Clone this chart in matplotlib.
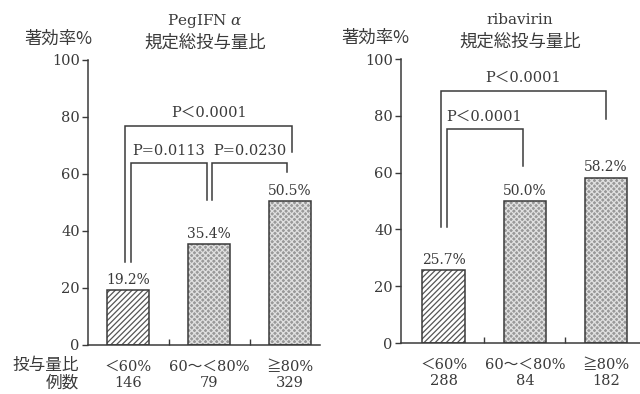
import matplotlib
matplotlib.use('Agg')
import matplotlib.pyplot as plt

# フォント: 数字はセリフ体、日本語は CJK にフォールバック
plt.rcParams['font.family'] = ['DejaVu Serif', 'Noto Sans CJK JP']
plt.rcParams['mathtext.fontset'] = 'dejavuserif'
plt.rcParams['hatch.linewidth'] = 0.9

INK = '#3a3a3a'
JP = ['Noto Sans CJK JP', 'DejaVu Sans']

# データ
categories = ['＜60%', '60〜＜80%', '≧80%']
peg_rate = [19.2, 35.4, 50.5]
peg_n = [146, 79, 329]
rbv_rate = [25.7, 50.0, 58.2]
rbv_n = [288, 84, 182]

fig = plt.figure(figsize=(6.4, 3.94), dpi=100)
ax1 = fig.add_axes([0.1375, 0.1244, 0.3625, 0.7234])
ax2 = fig.add_axes([0.6266, 0.1294, 0.3734, 0.7208])


def bar_panel(ax, rates, counts, xlim):
    xs = range(len(rates))
    for i, v in zip(xs, rates):
        if i == 0:
            ax.bar(i, v, width=0.53, color='white', edgecolor='#555555',
                   hatch='//////', linewidth=0)
        else:
            ax.bar(i, v, width=0.53, color='#999999', edgecolor='#e0e0e0',
                   hatch='xxxxxx', linewidth=0)
        ax.bar(i, v, width=0.53, fill=False, edgecolor=INK, linewidth=1.1)
        ax.text(i, v + 1.2, f'{v:.1f}%', ha='center', va='bottom',
                fontsize=10, color=INK)

    ax.set_ylim(0, 100)
    ax.set_xlim(*xlim)
    ax.set_yticks([0, 20, 40, 60, 80, 100])
    ax.tick_params(axis='y', direction='out', length=4, width=1,
                   colors=INK, labelsize=10.5, pad=2)

    # 区切りの目盛りとカテゴリ名
    ax.set_xticks([0.5, 1.5])
    ax.set_xticklabels([])
    ax.tick_params(axis='x', which='major', direction='in', length=4,
                   width=1, colors=INK)
    ax.set_xticks(list(xs), minor=True)
    ax.set_xticklabels([f'{c}\n{n}' for c, n in zip(categories, counts)],
                       minor=True, fontsize=10.5, color=INK, linespacing=1.2)
    ax.tick_params(axis='x', which='minor', length=0, pad=11)

    for s in ['top', 'right']:
        ax.spines[s].set_visible(False)
    for s in ['left', 'bottom']:
        ax.spines[s].set_color(INK)
        ax.spines[s].set_linewidth(1.1)


def bracket(ax, x0, x1, top, y0, y1, label=None, lx=None, ly=None):
    ax.plot([x0, x0, x1, x1], [y0, top, top, y1], color=INK, lw=1.1,
            solid_joinstyle='miter')
    if label:
        ax.text(lx, ly, label, ha='center', va='center', fontsize=10.5,
                color=INK)


bar_panel(ax1, peg_rate, peg_n, (-0.494, 2.37))
bar_panel(ax2, rbv_rate, rbv_n, (-0.53, 2.42))

bracket(ax1, -0.04, 2.02, 76.8, 29.0, 67.7, 'P＜0.0001', 1.0, 81.5)
bracket(ax1, 0.04, 0.98, 63.9, 29.0, 50.9, 'P=0.0113', 0.5, 67.9)
bracket(ax1, 1.04, 1.96, 63.9, 50.9, 60.7, 'P=0.0230', 1.5, 67.9)

bracket(ax2, -0.04, 2.0, 88.8, 40.7, 79.0, 'P＜0.0001', 0.98, 93.3)
bracket(ax2, 0.04, 0.98, 75.4, 40.7, 62.5, 'P＜0.0001', 0.5, 79.5)

# 見出し
fig.text(58 / 640, 1 - 39 / 394, '著効率%', family=JP, fontsize=12.5,
         color=INK, ha='center', va='center')
fig.text(205 / 640, 1 - 21 / 394, r'PegIFN $\alpha$', fontsize=11,
         color=INK, ha='center', va='center')
fig.text(205 / 640, 1 - 43 / 394, '規定総投与量比', family=JP, fontsize=12.5,
         color=INK, ha='center', va='center')

fig.text(375 / 640, 1 - 38 / 394, '著効率%', family=JP, fontsize=12.5,
         color=INK, ha='center', va='center')
fig.text(520 / 640, 1 - 20 / 394, 'ribavirin', fontsize=11,
         color=INK, ha='center', va='center')
fig.text(520 / 640, 1 - 42 / 394, '規定総投与量比', family=JP, fontsize=12.5,
         color=INK, ha='center', va='center')

fig.text(79 / 640, 1 - 365 / 394, '投与量比', family=JP, fontsize=12,
         color=INK, ha='right', va='center')
fig.text(79 / 640, 1 - 383 / 394, '例数', family=JP, fontsize=12,
         color=INK, ha='right', va='center')

fig.savefig('out.png', dpi=100)
